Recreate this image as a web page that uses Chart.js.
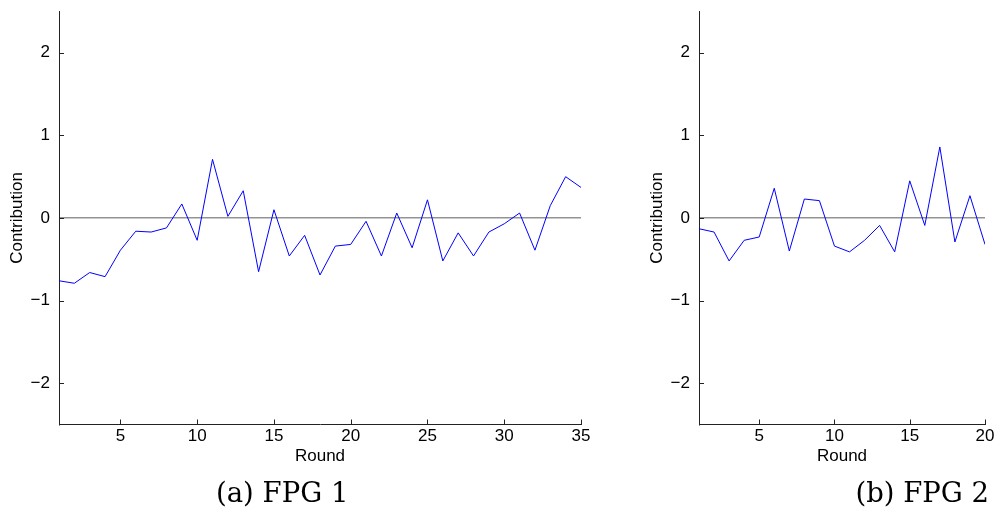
<!DOCTYPE html>
<html><head><meta charset="utf-8">
<script src="https://cdn.jsdelivr.net/npm/chart.js@4/dist/chart.umd.min.js"></script>
<style>
html,body{margin:0;padding:0;background:#fff;}
body{width:996px;height:514px;position:relative;overflow:hidden;}
canvas{position:absolute;top:0;}
#ca{left:0;}
#cb{left:640px;}
.cap{position:absolute;top:477px;font-family:"DejaVu Serif",serif;font-size:27.5px;line-height:30px;color:#000;white-space:nowrap;}
</style></head><body>
<canvas id="ca" width="640" height="514"></canvas>
<canvas id="cb" width="356" height="514"></canvas>
<div class="cap" style="left:216px;">(a) FPG 1</div>
<div class="cap" style="right:7px;">(b) FPG 2</div>
<script>
// ----- data -----
const roundsA = [1,2,3,4,5,6,7,8,9,10,11,12,13,14,15,16,17,18,19,20,21,22,23,24,25,26,27,28,29,30,31,32,33,34,35];
const contribA = [-0.76,-0.79,-0.66,-0.71,-0.39,-0.16,-0.17,-0.12,0.17,-0.27,0.71,0.02,0.33,-0.65,0.10,-0.46,-0.21,-0.69,-0.34,-0.32,-0.04,-0.46,0.06,-0.36,0.22,-0.52,-0.18,-0.46,-0.17,-0.07,0.06,-0.39,0.15,0.50,0.37];
const roundsB = [1,2,3,4,5,6,7,8,9,10,11,12,13,14,15,16,17,18,19,20];
const contribB = [-0.13,-0.17,-0.52,-0.27,-0.23,0.36,-0.40,0.23,0.21,-0.34,-0.41,-0.27,-0.09,-0.41,0.45,-0.09,0.86,-0.29,0.27,-0.32];
const xTicksA = [5,10,15,20,25,30,35];
const xTicksB = [5,10,15,20];
const yTicks = [-2,-1,0,1,2];
const xLabel = 'Round';
const yLabel = 'Contribution';

const SANS = '"Liberation Sans", Arial, Helvetica, sans-serif';

const inwardTicks = {
  id: 'inwardTicks',
  afterDraw(chart) {
    const {ctx, chartArea: a, scales: {x, y}} = chart;
    ctx.save();
    ctx.strokeStyle = '#222';
    ctx.lineWidth = 1;
    ctx.beginPath();
    x.ticks.forEach(t => {
      const px = Math.round(x.getPixelForValue(t.value)) + 0.5;
      ctx.moveTo(px, a.bottom); ctx.lineTo(px, a.bottom - 5);
    });
    y.ticks.forEach(t => {
      const py = Math.round(y.getPixelForValue(t.value)) + 0.5;
      ctx.moveTo(a.left, py); ctx.lineTo(a.left + 5, py);
    });
    ctx.stroke();
    ctx.restore();
  }
};

function makeChart(id, rounds, values, xTicks, rightPad) {
  return new Chart(document.getElementById(id), {
    type: 'line',
    data: {
      datasets: [{
        data: rounds.map((r, i) => ({x: r, y: values[i]})),
        borderColor: '#0000ff',
        borderWidth: 1,
        pointRadius: 0,
        tension: 0,
        fill: false
      }]
    },
    options: {
      responsive: false,
      animation: false,
      events: [],
      layout: {padding: {top: 11.5, right: rightPad, bottom: 0, left: 0}},
      plugins: {legend: {display: false}, tooltip: {enabled: false}},
      scales: {
        x: {
          type: 'linear',
          min: rounds[0],
          max: rounds[rounds.length - 1],
          afterBuildTicks: s => { s.ticks = xTicks.map(v => ({value: v})); },
          afterFit: s => { s.height = 89.5; s.paddingLeft = 0; s.paddingRight = 0; },
          grid: {display: false, drawTicks: false},
          border: {display: true, color: '#222', width: 1},
          ticks: {padding: 2, color: '#000', font: {family: SANS, size: 17}, maxRotation: 0, autoSkip: false},
          title: {display: true, text: xLabel, color: '#000', font: {family: SANS, size: 17}, padding: {top: 0, bottom: 47}}
        },
        y: {
          min: -2.5,
          max: 2.5,
          afterBuildTicks: s => { s.ticks = yTicks.map(v => ({value: v})); },
          afterFit: s => { s.width = 59; s.paddingTop = 0; s.paddingBottom = 0; },
          grid: {
            drawTicks: false,
            color: c => (c.tick && c.tick.value === 0) ? '#939393' : 'rgba(0,0,0,0)',
            lineWidth: 1.5
          },
          border: {display: true, color: '#222', width: 1},
          ticks: {padding: 9, color: '#000', font: {family: SANS, size: 17},
                  callback: v => String(v).replace('-', '\u2212')},
          title: {display: true, text: yLabel, color: '#000', font: {family: SANS, size: 17}, padding: {top: 7, bottom: 0}}
        }
      }
    },
    plugins: [inwardTicks]
  });
}

makeChart('ca', roundsA, contribA, xTicksA, 59);
makeChart('cb', roundsB, contribB, xTicksB, 11);
</script>
</body></html>
